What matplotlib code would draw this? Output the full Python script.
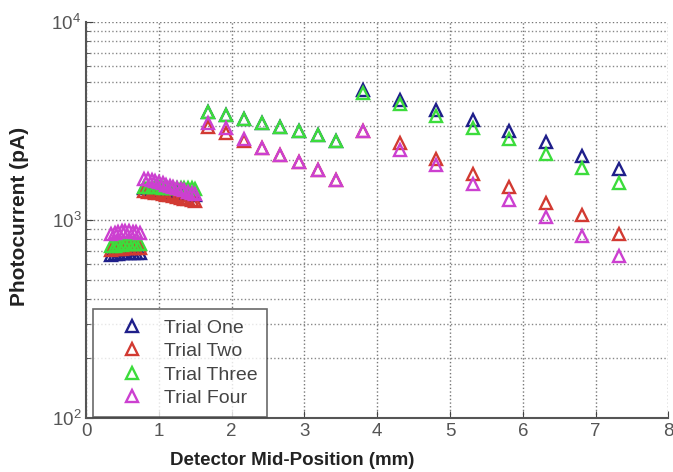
import matplotlib.pyplot as plt
from matplotlib.ticker import LogLocator, NullFormatter

plt.rcParams['font.family'] = ['Liberation Sans', 'DejaVu Sans']

# detector mid-positions (mm) for the three scan segments
x_fine = [0.34, 0.39, 0.44, 0.49, 0.54, 0.59, 0.64, 0.69, 0.74]
x_mid = [0.80, 0.85, 0.90, 0.95, 1.00, 1.05, 1.10, 1.15, 1.20, 1.25, 1.30, 1.35, 1.40, 1.45, 1.50]
x_coarse = [1.67, 1.92, 2.17, 2.42, 2.67, 2.93, 3.18, 3.43]
x_wide = [3.81, 4.31, 4.81, 5.31, 5.81, 6.32, 6.82, 7.32]

# photocurrent (pA) per trial, segment by segment
one_fine = [668, 672, 675, 678, 680, 681, 683, 684, 682]
one_mid = [1450, 1445, 1440, 1432, 1425, 1415, 1405, 1398, 1390, 1382, 1372, 1362, 1352, 1342, 1335]
one_coarse = [3520, 3380, 3250, 3080, 2940, 2820, 2700, 2520]
one_wide = [4550, 4050, 3600, 3200, 2800, 2470, 2100, 1800]

two_fine = [705, 710, 712, 716, 718, 720, 722, 722, 720]
two_mid = [1400, 1392, 1385, 1375, 1365, 1352, 1340, 1330, 1318, 1305, 1295, 1282, 1272, 1262, 1250]
two_coarse = [2950, 2750, 2520, 2320, 2120, 1960, 1780, 1600]
two_wide = [2800, 2450, 2030, 1700, 1470, 1220, 1060, 850]

three_fine = [735, 742, 748, 752, 755, 756, 758, 757, 755]
three_mid = [1470, 1468, 1465, 1462, 1460, 1455, 1452, 1450, 1448, 1446, 1444, 1450, 1455, 1450, 1440]
three_coarse = [3520, 3380, 3250, 3080, 2940, 2800, 2680, 2500]
three_wide = [4380, 3850, 3350, 2920, 2560, 2150, 1830, 1540]

four_fine = [850, 862, 872, 880, 878, 876, 872, 868, 862]
four_mid = [1620, 1605, 1590, 1570, 1550, 1530, 1510, 1490, 1470, 1450, 1430, 1410, 1390, 1370, 1350]
four_coarse = [3080, 2900, 2560, 2320, 2120, 1960, 1780, 1600]
four_wide = [2830, 2260, 1900, 1520, 1260, 1040, 830, 660]

labels = ['Trial One', 'Trial Two', 'Trial Three', 'Trial Four']
colors = ['#1f1f8a', '#d23a32', '#3cdc3c', '#cc40d0']
trials = [
    (one_fine, one_mid, one_coarse, one_wide),
    (two_fine, two_mid, two_coarse, two_wide),
    (three_fine, three_mid, three_coarse, three_wide),
    (four_fine, four_mid, four_coarse, four_wide),
]

x_all = x_fine + x_mid + x_coarse + x_wide

fig = plt.figure(figsize=(6.73, 4.72), dpi=100)
ax = fig.add_axes([0.128, 0.1144, 0.865, 0.839])

for lab, col, segs in zip(labels, colors, trials):
    y_all = segs[0] + segs[1] + segs[2] + segs[3]
    ax.plot(x_all, y_all, linestyle='none', marker='^', markersize=8,
            markerfacecolor='none', markeredgecolor=col, markeredgewidth=1.7,
            label=lab)

ax.set_yscale('log')
ax.set_xlim(0, 8)
ax.set_ylim(100, 10000)
ax.set_xticks(range(0, 9))
ax.yaxis.set_major_locator(LogLocator(base=10, numticks=5))
ax.yaxis.set_minor_locator(LogLocator(base=10, subs=range(2, 10), numticks=20))
ax.yaxis.set_minor_formatter(NullFormatter())

ax.grid(True, which='major', linestyle=':', color='#777777', linewidth=1.0)
ax.grid(True, which='minor', axis='y', linestyle=':', color='#888888', linewidth=1.0)

ax.tick_params(which='both', direction='in', colors='#444444', labelsize=13.5,
               labelcolor='#555555')
ax.tick_params(which='major', length=5)
ax.tick_params(which='minor', length=3)

for side in ['top', 'right']:
    ax.spines[side].set_visible(False)
for side in ['left', 'bottom']:
    ax.spines[side].set_color('#555555')
    ax.spines[side].set_linewidth(1.5)

ax.set_xlabel('Detector Mid-Position (mm)', fontsize=13.5, fontweight='bold',
              color='#222222', labelpad=6)
ax.xaxis.set_label_coords(0.354, -0.085)
ax.set_ylabel('Photocurrent (pA)', fontsize=15, fontweight='bold',
              color='#222222')
ax.yaxis.set_label_coords(-0.098, 0.51)

leg = ax.legend(loc='lower left', bbox_to_anchor=(0.012, 0.003), borderaxespad=0,
                fontsize=14, frameon=True, fancybox=False,
                handletextpad=0.15, labelspacing=0.3,
                borderpad=0.5, handlelength=3.0)
leg.get_frame().set_edgecolor('#444444')
leg.get_frame().set_linewidth(1.2)
for t in leg.get_texts():
    t.set_color('#444444')

fig.savefig('out.png', dpi=100)
